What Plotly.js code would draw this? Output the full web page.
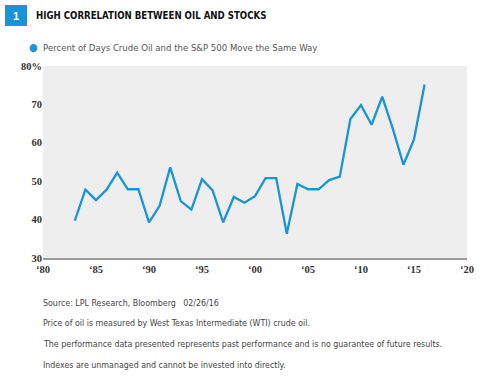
<!DOCTYPE html>
<html><head><meta charset="utf-8">
<script src="https://cdn.plot.ly/plotly-3.0.1.min.js"></script>
<style>html,body{margin:0;padding:0;background:#fff}#c{width:495px;height:382px}</style>
</head><body><div id="c"></div>
<script>
const years = [1983,1984,1985,1986,1987,1988,1989,1990,1991,1992,1993,1994,1995,1996,1997,1998,1999,2000,2001,2002,2003,2004,2005,2006,2007,2008,2009,2010,2011,2012,2013,2014,2015,2016];
const pctSameWay = [39.7,47.8,45.1,47.8,52.2,47.9,47.9,39.3,43.6,53.6,44.8,42.6,50.5,47.6,39.3,45.9,44.4,46.1,50.8,50.8,36.3,49.3,47.9,47.9,50.3,51.2,66.2,69.8,64.7,72.0,63.7,54.3,60.9,75.2];
const xTickVals = [1980,1985,1990,1995,2000,2005,2010,2015,2020];
const xTickText = ["\u201880","\u201885","\u201890","\u201895","\u201800","\u201805","\u201810","\u201815","\u201820"];
const yTickVals = [30,40,50,60,70,80];
const yTickText = ["30","40","50","60","70","80%"];
const seriesName = "Percent of Days Crude Oil and the S&P 500 Move the Same Way";
const titleText = "HIGH CORRELATION BETWEEN OIL AND STOCKS";
const notes = ["Source: LPL Research, Bloomberg   02/26/16",
  "Price of oil is measured by West Texas Intermediate (WTI) crude oil.",
  "The performance data presented represents past performance and is no guarantee of future results.",
  "Indexes are unmanaged and cannot be invested into directly."];

const L=43,R=467,T=66,B=258;
const px=x=>(x-L)/(R-L), py=y=>(B-y)/(B-T);
const blue="#1a94d4";
const cond="DejaVu Sans Condensed, Liberation Sans Narrow, Liberation Sans";
const annotations=[
  {xref:'paper',yref:'paper',x:px(16),y:py(15.5),text:"<b>1</b>",showarrow:false,font:{family:"Liberation Sans",size:11,color:"#fff"},xanchor:'center',yanchor:'middle'},
  {xref:'paper',yref:'paper',x:px(34),y:py(16),text:"<b>"+titleText+"</b>",showarrow:false,font:{family:cond,size:9.6,color:"#111"},xanchor:'left',yanchor:'middle'},
  {xref:'paper',yref:'paper',x:px(27),y:py(47),text:"<span style='color:"+blue+";font-size:11px'>\u25CF</span>  "+seriesName.replace("&","&amp;"),showarrow:false,font:{family:cond,size:9.5,color:"#555"},xanchor:'left',yanchor:'middle'}
];
const noteY=[303,323,344,365];
notes.forEach((t,i)=>annotations.push({xref:'paper',yref:'paper',x:px(41),y:py(noteY[i]),text:t,showarrow:false,font:{family:cond,size:8.8,color:"#444"},xanchor:'left',yanchor:'middle'}));

Plotly.newPlot('c',[{x:years,y:pctSameWay,type:'scatter',mode:'lines',name:seriesName,line:{color:blue,width:2.3},hoverinfo:'x+y'}],{
  width:495,height:382,margin:{l:L,r:495-R,t:T,b:382-B},
  paper_bgcolor:'#fff',plot_bgcolor:'#eeeeee',showlegend:false,
  xaxis:{range:[1980,2020],tickvals:xTickVals,ticktext:xTickText.map(t=>"<b>"+t+"</b>"),showgrid:false,zeroline:false,showline:true,linecolor:'#9a9a9a',linewidth:2,ticks:'',ticklen:0,tickfont:{family:"Liberation Serif, DejaVu Serif, serif",size:10.5,color:"#333"}},
  yaxis:{range:[30,80],tickvals:yTickVals,ticktext:yTickText.map(t=>"<b>"+t+"</b>"),showgrid:false,zeroline:false,showline:false,ticks:'',tickfont:{family:"Liberation Serif, DejaVu Serif, serif",size:10.5,color:"#333"}},
  shapes:[{type:'rect',xref:'paper',yref:'paper',x0:px(5),x1:px(27),y0:py(26),y1:py(5),fillcolor:blue,line:{width:0}}],
  annotations:annotations
},{staticPlot:true});
</script></body></html>
